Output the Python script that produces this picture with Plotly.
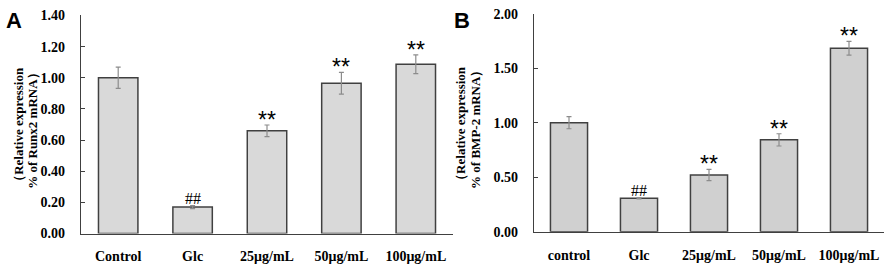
import plotly.graph_objects as go

W, H = 886, 268

cats_a = ["Control", "Glc", "25μg/mL", "50μg/mL", "100μg/mL"]
vals_a = [1.00, 0.17, 0.66, 0.965, 1.087]
errs_a = [0.068, 0.01, 0.037, 0.07, 0.06]
marks_a = ["", "##", "**", "**", "**"]
ticks_a = [0, 0.2, 0.4, 0.6, 0.8, 1.0, 1.2, 1.4]

cats_b = ["control", "Glc", "25μg/mL", "50μg/mL", "100μg/mL"]
vals_b = [1.00, 0.306, 0.52, 0.842, 1.682]
errs_b = [0.056, 0.005, 0.052, 0.056, 0.063]
marks_b = ["", "##", "**", "**", "**"]
ticks_b = [0, 0.5, 1.0, 1.5, 2.0]

SERIF = "Liberation Serif, Times New Roman, serif"
SANS = "Liberation Sans, Arial, sans-serif"

fig = go.Figure()
fig.add_trace(go.Bar(
    x=cats_a, y=vals_a, xaxis="x", yaxis="y", width=0.53,
    marker=dict(color="#d9d9d9", line=dict(color="#404040", width=1.5)),
    error_y=dict(type="data", array=errs_a, color="#8c8c8c", thickness=1.2, width=2.5),
    showlegend=False))
fig.add_trace(go.Bar(
    x=cats_b, y=vals_b, xaxis="x2", yaxis="y2", width=0.53,
    marker=dict(color="#d0d0d0", line=dict(color="#404040", width=1.5)),
    error_y=dict(type="data", array=errs_b, color="#8c8c8c", thickness=1.2, width=2.5),
    showlegend=False))

def px(x):
    return x / W

def py(y):
    return 1 - y / H

tickfont = dict(family=SERIF, size=14, color="#000", weight="bold")
common_x = dict(showline=True, linecolor="#404040", linewidth=1.2, ticks="",
                tickfont=tickfont, showgrid=False, zeroline=False, fixedrange=True,
                ticklabelstandoff=10)
common_y = dict(showline=True, linecolor="#404040", linewidth=1.2, ticks="inside",
                ticklen=4, tickcolor="#404040", tickformat=".2f",
                tickfont=tickfont, showgrid=False, zeroline=False, fixedrange=True,
                ticklabelstandoff=12)

fig.update_layout(
    width=W, height=H, margin=dict(l=0, r=0, t=0, b=0),
    paper_bgcolor="white", plot_bgcolor="white",
    xaxis=dict(domain=[px(81), px(453)], anchor="y", **common_x),
    yaxis=dict(domain=[py(240), py(9)], anchor="x", range=[0, 1.4],
               tickvals=ticks_a, **common_y),
    xaxis2=dict(domain=[px(534), px(884)], anchor="y2", **common_x),
    yaxis2=dict(domain=[py(238), py(7)], anchor="x2", range=[0, 2.0],
                tickvals=ticks_b, **common_y),
)

ann = []
for cats, vals, errs, marks, xr, yr in [(cats_a, vals_a, errs_a, marks_a, "x", "y"),
                                        (cats_b, vals_b, errs_b, marks_b, "x2", "y2")]:
    for c, v, e, m in zip(cats, vals, errs, marks):
        if not m:
            continue
        if m == "**":
            ann.append(dict(x=c, y=v + e, xref=xr, yref=yr, text=m, showarrow=False,
                            yanchor="bottom", yshift=-10,
                            font=dict(family=SANS, size=23, color="#000")))
        else:
            ann.append(dict(x=c, y=v + e, xref=xr, yref=yr, text=m, showarrow=False,
                            yanchor="bottom", yshift=-3,
                            font=dict(family=SERIF, size=16, color="#000")))

titlefont = dict(family=SERIF, size=13, color="#000", weight="bold")
for x0, y0, t in [(19, 128, "（Relative expression"), (33, 128, "% of Runx2 mRNA）"),
                  (461, 127, "（Relative expression"), (476, 127, "% of BMP-2 mRNA）")]:
    ann.append(dict(x=px(x0), y=py(y0), xref="paper", yref="paper", text=t,
                    textangle=-90, showarrow=False, xanchor="center", yanchor="middle",
                    font=titlefont))

for x0, t in [(14, "A"), (462, "B")]:
    ann.append(dict(x=px(x0), y=py(14), xref="paper", yref="paper", text=t,
                    showarrow=False, xanchor="center", yanchor="middle",
                    font=dict(family=SANS, size=22, color="#000", weight="bold")))

fig.update_layout(annotations=ann)
fig.write_html("out.html", config={"displayModeBar": False},
               post_script="document.body.style.margin='0px';document.body.style.overflow='hidden';")
